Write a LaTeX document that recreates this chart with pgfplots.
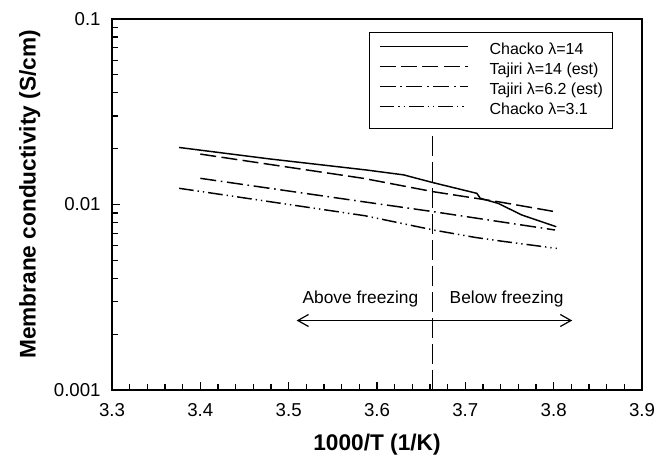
\documentclass[border=0pt]{standalone}
\usepackage{fontspec}
\setmainfont{Liberation Sans}
\usepackage{pgfplots}
\pgfplotsset{compat=1.18}
\usetikzlibrary{arrows.meta}
\begin{document}
\begin{tikzpicture}
\begin{axis}[
 scale only axis, width=397.5pt, height=278.25pt,
 clip=false,
 xmin=3.3, xmax=3.9, ymode=log, ymin=0.001, ymax=0.1,
 xtick={3.3,3.4,3.5,3.6,3.7,3.8,3.9},
 xticklabels={3.3,3.4,3.5,3.6,3.7,3.8,3.9},
 minor x tick num=4,
 ytick={0.001,0.01,0.1}, yticklabels={0.001,0.01,0.1},
 minor ytick={0.002,0.003,0.004,0.005,0.006,0.007,0.008,0.009,0.02,0.03,0.04,0.05,0.06,0.07,0.08,0.09},
 tick align=inside, tick pos=left,
 major tick length=6pt, minor tick length=4.5pt,
 every tick/.style={black, line width=0.8pt},
 axis line style={line width=0.9pt},
 ticklabel style={font=\fontsize{14}{16}\selectfont},
 xticklabel style={yshift=-6.5pt},
 yticklabel style={xshift=-5pt},
 xlabel={1000/T (1/K)}, ylabel={Membrane conductivity (S/cm)},
 every axis x label/.style={at={(axis description cs:0.5,-0.148)}, anchor=center, font=\bfseries\fontsize{17}{20}\selectfont},
 every axis y label/.style={at={(axis description cs:-0.155,0.527)}, anchor=center, rotate=90, font=\bfseries\fontsize{17}{20}\selectfont},
 legend style={at={(0.945,0.965)}, anchor=north east, draw=black, line width=0.8pt, fill=white,
   font=\fontsize{12}{14}\selectfont, inner xsep=7pt, inner ysep=8pt, row sep=4pt,
   nodes={inner sep=0pt, text height=8.5pt, text depth=2.5pt, font=\fontsize{12}{14}\selectfont},
   /tikz/every odd column/.append style={column sep=16pt}},
 legend cell align=left,
 legend image code/.code={\draw[#1] (0pt,3pt) -- (66pt,3pt);},
]
\draw[line width=0.8pt, dash pattern=on 15pt off 4.5pt] (axis cs:3.663,0.001) -- (axis cs:3.663,0.025);

\addplot[black, line width=1.1pt] coordinates {(3.376,0.0203) (3.479,0.0176) (3.588,0.01535) (3.630,0.01445) (3.664,0.0131) (3.713,0.01149) (3.717,0.0108) (3.737,0.01015) (3.764,0.00878) (3.803,0.00759)};
\addlegendentry{Chacko λ=14}
\addplot[black, line width=1.1pt, dash pattern=on 12pt off 4pt] coordinates {(3.400,0.0187) (3.5845,0.01384) (3.6638,0.01172) (3.7373,0.01035) (3.8015,0.00915)};
\addlegendentry{Tajiri λ=14 (est)}
\addplot[black, line width=1.1pt, dash pattern=on 12pt off 3.5pt on 1.2pt off 3.5pt] coordinates {(3.400,0.01384) (3.592,0.01023) (3.6638,0.00915) (3.8015,0.00729)};
\addlegendentry{Tajiri λ=6.2 (est)}
\addplot[black, line width=1.1pt, dash pattern=on 11pt off 3pt on 1pt off 3pt on 1pt off 3pt] coordinates {(3.376,0.01223) (3.5864,0.0087) (3.6638,0.00729) (3.711,0.00665) (3.7373,0.00638) (3.8035,0.0058)};
\addlegendentry{Chacko λ=3.1}

\node[anchor=base east, font=\fontsize{13}{15}\selectfont] at (axis cs:3.652,0.002925) {Above freezing};
\node[anchor=base west, font=\fontsize{13}{15}\selectfont] at (axis cs:3.677,0.002925) {Below freezing};
\draw[line width=0.9pt, {Straight Barb[length=8pt,width=9pt]}-{Straight Barb[length=8pt,width=9pt]}] (axis cs:3.509,0.00237) -- (axis cs:3.821,0.00237);

\coordinate (SW) at (rel axis cs:0,0);
\coordinate (NE) at (rel axis cs:1,1);
\end{axis}
\pgfresetboundingbox
\path ([shift={(-84pt,-54.75pt)}]SW) rectangle ([shift={(11.25pt,14.25pt)}]NE);
\end{tikzpicture}
\end{document}
